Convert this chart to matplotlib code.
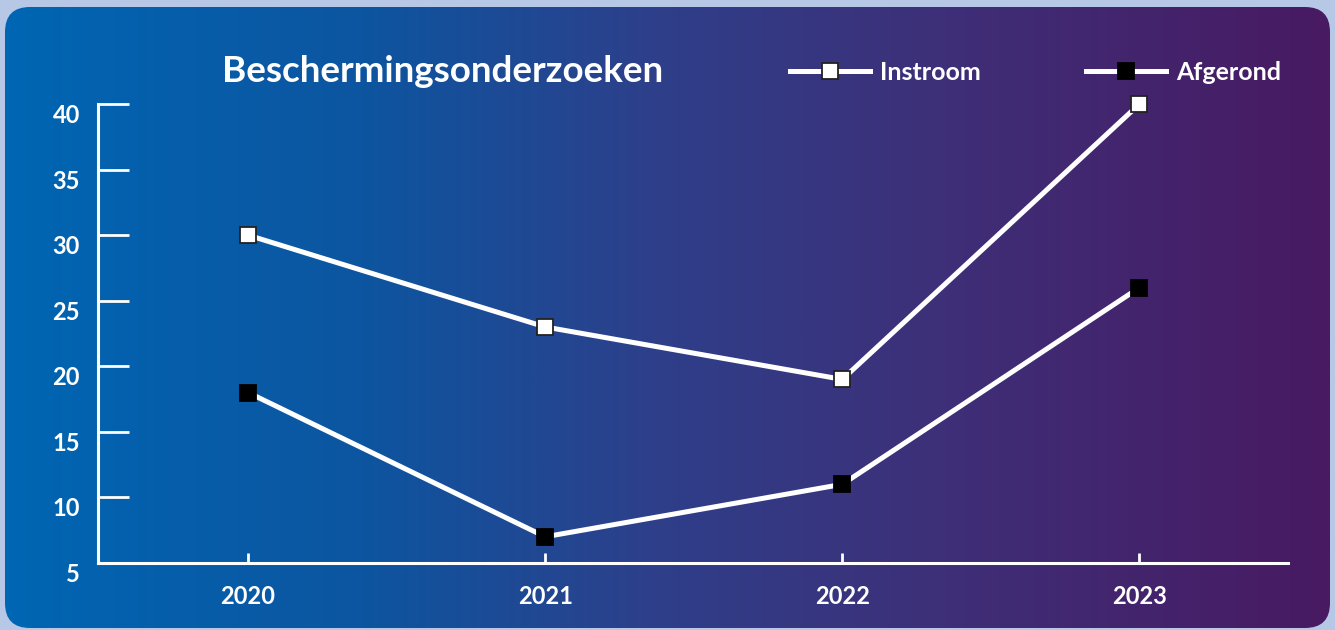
import numpy as np
import matplotlib
matplotlib.use("Agg")
import matplotlib.pyplot as plt
from matplotlib.patches import FancyBboxPatch
from matplotlib.colors import LinearSegmentedColormap

# ---- data ----
years = ["2020", "2021", "2022", "2023"]
instroom = [30, 23, 19, 40]
afgerond = [18, 7, 11, 26]
yticks = [5, 10, 15, 20, 25, 30, 35, 40]
title = "Beschermingsonderzoeken"
series_names = ["Instroom", "Afgerond"]

W, H = 1335, 630
fig = plt.figure(figsize=(W / 100, H / 100), dpi=100)
fig.patch.set_facecolor("#b7c7e6")

# background panel with gradient
bg = fig.add_axes([0, 0, 1, 1])
bg.set_xlim(0, W)
bg.set_ylim(0, H)
bg.axis("off")
cmap = LinearSegmentedColormap.from_list(
    "g", [(0.0, "#0066b3"), (0.27, "#0d55a0"), (0.49, "#2e3f8a"),
          (0.71, "#3e2f78"), (1.0, "#481a62")])
grad = np.linspace(0, 1, 512)[None, :]
im = bg.imshow(grad, cmap=cmap, extent=[5, 1330, 2, 623], aspect="auto", zorder=0)
panel = FancyBboxPatch((5 + 25, 2 + 25), 1325 - 50, 621 - 50,
                       boxstyle="round,pad=25", facecolor="none", edgecolor="none")
bg.add_patch(panel)
im.set_clip_path(panel)

# main axes
ax = fig.add_axes([98 / W, (H - 563) / H, (1288 - 98) / W, (563 - 104) / H])
ax.patch.set_alpha(0)
x = np.arange(len(years))
ax.set_xlim(-0.505, 3.5)
ax.set_ylim(5, 40)

lw = 3.6
ax.plot(x, instroom, color="white", lw=lw, marker="s", markersize=11,
        markerfacecolor="white", markeredgecolor="#222222", markeredgewidth=1.3,
        label=series_names[0], zorder=3, clip_on=False)
ax.plot(x, afgerond, color="white", lw=lw, marker="s", markersize=11,
        markerfacecolor="black", markeredgecolor="black", markeredgewidth=1.3,
        label=series_names[1], zorder=3, clip_on=False)

for s in ["top", "right"]:
    ax.spines[s].set_visible(False)
for s in ["left", "bottom"]:
    ax.spines[s].set_color("white")
    ax.spines[s].set_linewidth(2.2)

ax.set_yticks(yticks)
ax.set_yticklabels([str(v) for v in yticks])
ax.set_xticks(x)
ax.set_xticklabels(years)
ax.tick_params(axis="y", direction="in", length=22, width=2, color="white",
               pad=13, labelcolor="white", labelsize=17)
ax.tick_params(axis="x", direction="in", length=7, width=2, color="white",
               pad=16, labelcolor="white", labelsize=17)
for lab in ax.get_yticklabels() + ax.get_xticklabels():
    lab.set_fontfamily("Lato")
    lab.set_fontweight("bold")
for lab in ax.get_yticklabels():
    lab.set_va("top")

fig.text(222 / W, (H - 82) / H, title, color="white", fontsize=26.5,
         fontfamily="Lato", fontweight="bold", va="baseline", ha="left")

leg = ax.legend(loc="center left", bbox_to_anchor=(790 / W, (H - 72) / H),
                bbox_transform=fig.transFigure, ncol=2, frameon=False,
                handlelength=3.2, handletextpad=0.4, columnspacing=4.2,
                borderpad=0, borderaxespad=0,
                prop={"family": "Lato", "weight": "bold", "size": 18})
for t in leg.get_texts():
    t.set_color("white")

fig.savefig("out.png", dpi=100, facecolor=fig.get_facecolor())
